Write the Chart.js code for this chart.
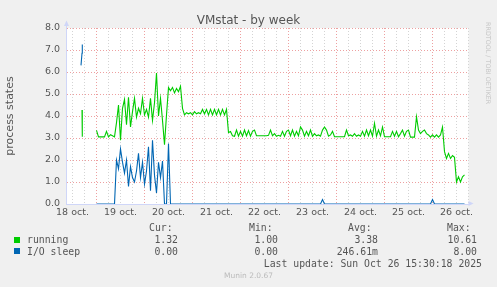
<!DOCTYPE html>
<html>
<head>
<meta charset="utf-8">
<title>VMstat - by week</title>
<script src="https://cdn.jsdelivr.net/npm/chart.js@4.4.1/dist/chart.umd.min.js"></script>
<style>
  html, body { margin: 0; padding: 0; background: #f0f0f0; }
  #wrap { position: relative; width: 497px; height: 287px; overflow: hidden; color: #555; font-family: 'DejaVu Sans', sans-serif; }
  #chart { position: absolute; left: 0; top: 0; }
  .t { position: absolute; white-space: pre; line-height: 1; }
  .mono { font-family: 'DejaVu Sans Mono', monospace; font-size: 9.8px; }
  .sq { position: absolute; width: 6px; height: 6px; }
  #title { left: 0; width: 497px; top: 13.5px; text-align: center; font-size: 12px; }
  #munin { left: 0; width: 497px; top: 272px; text-align: center; font-size: 7.5px; color: #bbb; }
  #rrd { left: 491px; top: 22px; font-size: 6.4px; color: #c8c8c8; transform: rotate(90deg); transform-origin: 0 0; }
</style>
</head>
<body>
<div id="wrap">
  <canvas id="chart" width="497" height="287"></canvas>
  <div class="t" id="title">VMstat - by week</div>
  <div class="t" id="rrd">RRDTOOL / TOBI OETIKER</div>
  <div id="legend"></div>
  <div class="t" id="munin">Munin 2.0.67</div>
</div>
<script>
// hours counted from 18 oct. 00:00
const earlyHours = [16.25, 16.75, 16.9, 20];
const earlyRunning = [null, 4.27, 3.06, null];
const earlyIoSleep = [6.3, 6.85, 7.25, null];

// hourly samples from 19 oct. 00:00 (hour 24) to 26 oct. 16:00 (hour 208)
const firstHour = 24;
const running = [
  3.35, 3.05, 3.05, 3.05, 3.05, 3.3, 3.05, 3.15, 3.1, 3.05, 3.7, 4.5, 2.9, 4.35, 4.75, 3.6, 4.85, 3.5, 4.2, 4.8, 3.95, 4.35, 4.1, 4.8,
  4.05, 4.3, 3.95, 4.8, 3.8, 4.6, 5.95, 4.0, 4.8, 3.8, 2.7, 4.05, 5.3, 5.15, 5.3, 5.05, 5.25, 5.1, 5.35, 4.35, 4.05, 4.15, 4.1, 4.15,
  4.05, 4.2, 4.1, 4.15, 4.1, 4.3, 4.1, 4.3, 4.05, 4.3, 4.05, 4.3, 4.05, 4.3, 4.05, 4.3, 4.05, 4.3, 3.25, 3.3, 3.1, 3.08, 3.36, 3.08,
  3.3, 3.08, 3.36, 3.1, 3.34, 3.08, 3.3, 3.36, 3.1, 3.1, 3.1, 3.1, 3.1, 3.1, 3.12, 3.36, 3.1, 3.2, 3.08, 3.12, 3.08, 3.3, 3.08, 3.3,
  3.36, 3.1, 3.36, 3.08, 3.3, 3.1, 3.5, 3.36, 3.08, 3.3, 3.1, 3.36, 3.08, 3.2, 3.1, 3.14, 3.08, 3.36, 3.5, 3.36, 3.08, 3.14, 3.3, 3.06,
  3.06, 3.06, 3.06, 3.06, 3.06, 3.36, 3.1, 3.14, 3.08, 3.2, 3.08, 3.14, 3.08, 3.3, 3.08, 3.36, 3.1, 3.36, 3.08, 3.67, 3.08, 3.36, 3.1, 3.5,
  3.06, 3.06, 3.06, 3.06, 3.3, 3.08, 3.3, 3.06, 3.2, 3.36, 3.08, 3.3, 3.36, 3.04, 3.04, 3.04, 3.97, 3.36, 3.2, 3.3, 3.36, 3.2, 3.14, 3.04,
  3.14, 3.04, 3.14, 3.04, 3.14, 3.5, 2.38, 2.07, 2.3, 2.07, 2.2, 2.12, 1.0, 1.24, 1.0, 1.24, 1.32
];
const ioSleep = [
  0, 0, 0, 0, 0, 0, 0, 0, 0, 0, 2.0, 1.6, 2.5, 1.9, 1.4, 2.0, 0.8, 1.7, 1.2, 1.0, 1.5, 2.3, 1.2, 1.9,
  0.9, 1.5, 2.6, 0.6, 2.9, 1.3, 0.5, 1.9, 1.2, 1.95, 0, 0, 2.75, 0, 0, 0, 0, 0, 0, 0, 0, 0, 0, 0,
  0, 0, 0, 0, 0, 0, 0, 0, 0, 0, 0, 0, 0, 0, 0, 0, 0, 0, 0, 0, 0, 0, 0, 0,
  0, 0, 0, 0, 0, 0, 0, 0, 0, 0, 0, 0, 0, 0, 0, 0, 0, 0, 0, 0, 0, 0, 0, 0,
  0, 0, 0, 0, 0, 0, 0, 0, 0, 0, 0, 0, 0, 0, 0, 0, 0, 0.2, 0, 0, 0, 0, 0, 0,
  0, 0, 0, 0, 0, 0, 0, 0, 0, 0, 0, 0, 0, 0, 0, 0, 0, 0, 0, 0, 0, 0, 0, 0,
  0, 0, 0, 0, 0, 0, 0, 0, 0, 0, 0, 0, 0, 0, 0, 0, 0, 0, 0, 0, 0, 0, 0, 0,
  0.2, 0, 0, 0, 0, 0, 0, 0, 0, 0, 0, 0, 0, 0, 0, 0, 0
];

const dayLabels = ['18 oct.', '19 oct.', '20 oct.', '21 oct.', '22 oct.', '23 oct.', '24 oct.', '25 oct.', '26 oct.'];
const yLabels = ['0.0', '1.0', '2.0', '3.0', '4.0', '5.0', '6.0', '7.0', '8.0'];

const seriesNames = ['running', 'I/O sleep'];
const seriesColors = ['#00cc00', '#0066b3'];
const statHeads = ['Cur:', 'Min:', 'Avg:', 'Max:'];
const statValues = [
  ['1.32', '1.00', '3.38', '10.61'],
  ['0.00', '0.00', '246.61m', '8.00']
];
const lastUpdate = 'Last update: Sun Oct 26 15:30:18 2025';

// build points
const hours = earlyHours.concat(running.map((_, i) => firstHour + i));
const toPoints = vals => vals.map((v, i) => ({ x: hours[i], y: v }));
const runningPts = toPoints(earlyRunning.concat(running));
const ioPts = toPoints(earlyIoSleep.concat(ioSleep));

const xMin = 8.75, xMax = 210;
const xTicks = [];
for (let h = 12; h <= xMax; h += 6) xTicks.push(h);
const yTicks = [];
for (let v = 0; v <= 8; v += 0.5) yTicks.push(v);

const RED = '#eda0a0';
const GREY = '#d4d4d4';
const AXIS = '#cfd6f8';
const FONT = { family: "'DejaVu Sans', sans-serif", size: 9.5 };

// white canvas area + rrdtool style arrows
const rrdFrame = {
  id: 'rrdFrame',
  beforeDraw(chart) {
    const { ctx, chartArea: a } = chart;
    ctx.save();
    ctx.fillStyle = '#fff';
    ctx.fillRect(a.left, a.top, a.right - a.left, a.bottom - a.top);
    ctx.restore();
  },
  afterDraw(chart) {
    const { ctx, chartArea: a } = chart;
    const x0 = Math.round(a.left) + 0.5, y0 = Math.round(a.bottom) - 0.5;
    ctx.save();
    ctx.strokeStyle = AXIS;
    ctx.fillStyle = AXIS;
    ctx.lineWidth = 1;
    ctx.beginPath();
    ctx.moveTo(x0, a.top);
    ctx.lineTo(x0, a.top - 3);
    ctx.stroke();
    ctx.beginPath();
    ctx.moveTo(x0, a.top - 7.5);
    ctx.lineTo(x0 - 2.5, a.top - 2);
    ctx.lineTo(x0 + 2.5, a.top - 2);
    ctx.closePath();
    ctx.fill();
    ctx.beginPath();
    ctx.moveTo(a.right + 5, y0);
    ctx.lineTo(a.right, y0 - 2.5);
    ctx.lineTo(a.right, y0 + 2.5);
    ctx.closePath();
    ctx.fill();
    ctx.restore();
  }
};

new Chart(document.getElementById('chart'), {
  type: 'line',
  data: {
    datasets: [
      { label: seriesNames[1], data: ioPts, borderColor: seriesColors[1], borderWidth: 1.1 },
      { label: seriesNames[0], data: runningPts, borderColor: seriesColors[0], borderWidth: 1.1 }
    ]
  },
  options: {
    responsive: false,
    animation: false,
    devicePixelRatio: 1,
    spanGaps: false,
    elements: { point: { radius: 0 }, line: { tension: 0 } },
    layout: { padding: { top: 28, right: 28.5, bottom: 0, left: 0 } },
    plugins: { legend: { display: false }, tooltip: { enabled: false } },
    scales: {
      x: {
        type: 'linear', min: xMin, max: xMax,
        afterBuildTicks: s => { s.ticks = xTicks.map(v => ({ value: v })); },
        afterFit: s => { s.height = 83; },
        grid: {
          drawTicks: false,
          color: c => (c.tick.value % 24 === 0 ? RED : GREY)
        },
        border: { color: AXIS, dash: [1, 2] },
        ticks: {
          autoSkip: false, maxRotation: 0, padding: 3, color: '#555', font: FONT,
          callback: v => (v % 24 === 12 ? dayLabels[(v - 12) / 24] : '')
        }
      },
      y: {
        min: 0, max: 8,
        afterBuildTicks: s => { s.ticks = yTicks.map(v => ({ value: v })); },
        afterFit: s => { s.width = 66; },
        grid: {
          drawTicks: false,
          color: c => (c.tick.value === 0 ? 'rgba(0,0,0,0)' : c.tick.value % 1 === 0 ? RED : GREY)
        },
        border: { color: AXIS, dash: [1, 2] },
        title: { display: true, text: 'process states', color: '#555', font: { family: "'DejaVu Sans', sans-serif", size: 11 } },
        ticks: {
          padding: 6, color: '#555', font: FONT,
          callback: v => (v % 1 === 0 ? yLabels[v] : '')
        }
      }
    }
  },
  plugins: [rrdFrame]
});

// legend table (rrdtool GPRINT style)
const legend = document.getElementById('legend');
const addText = (txt, css) => {
  const d = document.createElement('div');
  d.className = 't mono';
  d.textContent = txt;
  Object.assign(d.style, css);
  legend.appendChild(d);
  return d;
};
const headLeft = [149, 249, 348, 447];
const valRight = [178, 278, 378, 477];
const rowTop = [235.3, 247];
statHeads.forEach((h, i) => addText(h, { left: headLeft[i] + 'px', top: '222.5px' }));
seriesNames.forEach((name, r) => {
  const sq = document.createElement('div');
  sq.className = 'sq';
  Object.assign(sq.style, { left: '14px', top: (rowTop[r] + 1.4) + 'px', background: seriesColors[r] });
  legend.appendChild(sq);
  addText(name, { left: '27px', top: rowTop[r] + 'px' });
  statValues[r].forEach((v, i) => addText(v, { right: (497 - valRight[i]) + 'px', top: rowTop[r] + 'px' }));
});
addText(lastUpdate, { right: '15px', top: '258.6px' });
</script>
</body>
</html>
